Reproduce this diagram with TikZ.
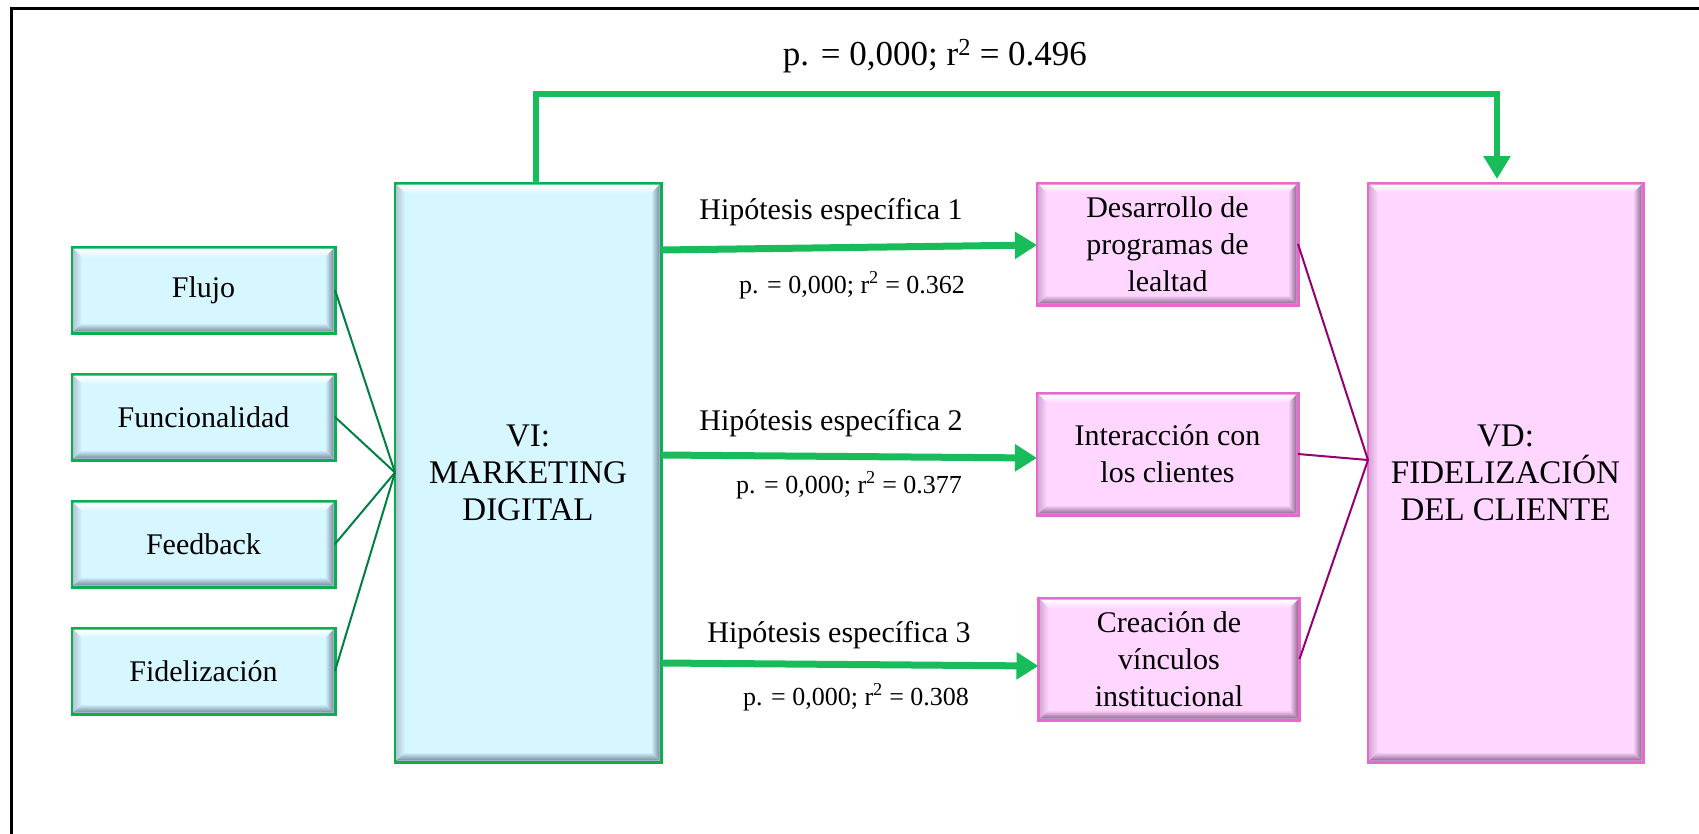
\documentclass[tikz,border=0pt]{standalone}
\usepackage{fontspec}
\setmainfont{Liberation Serif}
\usetikzlibrary{arrows.meta,calc}

\definecolor{cyanfill}{RGB}{214,247,255}
\definecolor{cyandark}{RGB}{120,140,160}
\definecolor{cyanlite}{RGB}{180,200,215}
\definecolor{pinkfill}{RGB}{255,214,255}
\definecolor{pinkdark}{RGB}{145,105,145}
\definecolor{pinklite}{RGB}{215,170,215}
\definecolor{gborder}{RGB}{10,175,80}
\definecolor{pborder}{RGB}{232,105,205}
\definecolor{garrowc}{RGB}{25,188,90}
\definecolor{fanc}{RGB}{0,128,64}
\definecolor{plinec}{RGB}{150,0,110}

% bevelled inner edges of a box: node, fill, dark side, light side
\newcommand\bevelbox[4]{%
  \coordinate (onw) at ($(#1.north west)+(1.5,1.5)$);
  \coordinate (one) at ($(#1.north east)+(-1.5,1.5)$);
  \coordinate (ose) at ($(#1.south east)+(-1.5,-1.5)$);
  \coordinate (osw) at ($(#1.south west)+(1.5,-1.5)$);
  \coordinate (inw) at ($(#1.north west)+(10,10)$);
  \coordinate (ine) at ($(#1.north east)+(-10,10)$);
  \coordinate (ise) at ($(#1.south east)+(-10,-10)$);
  \coordinate (isw) at ($(#1.south west)+(10,-10)$);
  \shade[top color=white, bottom color=#2] (onw) -- (one) -- (ine) -- (inw) -- cycle;
  \shade[left color=#4, right color=#2] (onw) -- (inw) -- (isw) -- (osw) -- cycle;
  \shade[left color=#2, right color=#3] (one) -- (ose) -- (ise) -- (ine) -- cycle;
  \shade[top color=#2, bottom color=#3] (osw) -- (isw) -- (ise) -- (ose) -- cycle;
}

\begin{document}
\begin{tikzpicture}[x=1pt,y=-1pt,
  base/.style={rectangle, inner sep=0pt, outer sep=0pt, line width=3pt, align=center},
  cbox/.style={base, draw=gborder, fill=cyanfill},
  pbox/.style={base, draw=pborder, fill=pinkfill},
  smalltext/.style={font=\fontsize{30}{37}\selectfont},
  bigtext/.style={font=\fontsize{33}{37}\selectfont},
  labeltext/.style={font=\fontsize{30}{36}\selectfont, anchor=base},
  stattext/.style={font=\fontsize{26}{30}\selectfont, anchor=base},
  topstat/.style={font=\fontsize{35}{40}\selectfont, anchor=base},
  fanline/.style={draw=fanc, line width=2pt},
  pline/.style={draw=plinec, line width=2pt},
  garrow/.style={draw=garrowc, line width=7pt,
    -{Triangle[width=26pt,length=22pt]}},
  toparrow/.style={draw=garrowc, line width=6pt, line join=miter,
    -{Triangle[width=26pt,length=23pt]}}
]
\useasboundingbox (0,0) rectangle (1699,833);

% outer frame
\draw[line width=3pt] (11.5,840) -- (11.5,8) -- (1710,8);

% independent variable and its dimensions
\node[cbox, minimum width=263pt, minimum height=86pt, smalltext] (flujo) at (203.5,290) {Flujo};
\node[cbox, minimum width=263pt, minimum height=86pt, smalltext] (func) at (203.5,417) {Funcionalidad};
\node[cbox, minimum width=263pt, minimum height=86pt, smalltext] (feed) at (203.5,544) {Feedback};
\node[cbox, minimum width=263pt, minimum height=86pt, smalltext] (fide) at (203.5,671) {Fidelización};
\node[cbox, minimum width=266pt, minimum height=579pt, bigtext] (VI) at (528,472.5) {VI:\\MARKETING\\DIGITAL};

% dependent variable and its dimensions
\node[pbox, minimum width=261pt, minimum height=122pt, smalltext] (des) at (1167.5,244) {Desarrollo de\\programas de\\lealtad};
\node[pbox, minimum width=261pt, minimum height=122pt, smalltext] (inter) at (1167.5,454) {Interacción con\\los clientes};
\node[pbox, minimum width=261pt, minimum height=122pt, smalltext] (cre) at (1169,659) {Creación de\\vínculos\\institucional};
\node[pbox, minimum width=275pt, minimum height=579pt, bigtext] (VD) at (1505.5,472.5) {VD:\\FIDELIZACIÓN\\DEL CLIENTE};

% bevels
\foreach \n in {flujo,func,feed,fide,VI} {\bevelbox{\n}{cyanfill}{cyandark}{cyanlite}}
\foreach \n in {des,inter,cre,VD} {\bevelbox{\n}{pinkfill}{pinkdark}{pinklite}}

% dimension links
\foreach \n in {flujo,func,feed,fide} {\draw[fanline] (\n.east) -- (VI.west);}
\coordinate (vdin) at (VD.west |- 0,460);
\foreach \n in {des,inter,cre} {\draw[pline] (\n.east) -- (vdin);}

% hypothesis arrows
\draw[garrow] (VI.east |- 0,250) -- (des.west |- 0,245);
\draw[garrow] (VI.east |- 0,455) -- (inter.west |- 0,458);
\draw[garrow] (VI.east |- 0,663) -- (cre.west |- 0,666);

% general hypothesis
\coordinate (tl) at (536,94);
\coordinate (tr) at (1497,94);
\draw[toparrow] (tl |- VI.north) -- (tl) -- (tr) -- ($(tr |- VD.north)+(0,-4)$);

% labels
\node[topstat] (s0) at (935,65) {p. = 0,000; r\textsuperscript{2} = 0.496};
\node[labeltext] (h1) at (831,219) {Hipótesis específica 1};
\node[stattext] (s1) at (852,293) {p. = 0,000; r\textsuperscript{2} = 0.362};
\node[labeltext] (h2) at (831,430) {Hipótesis específica 2};
\node[stattext] (s2) at (849,493) {p. = 0,000; r\textsuperscript{2} = 0.377};
\node[labeltext] (h3) at (839,642) {Hipótesis específica 3};
\node[stattext] (s3) at (856,705) {p. = 0,000; r\textsuperscript{2} = 0.308};
\end{tikzpicture}
\end{document}
